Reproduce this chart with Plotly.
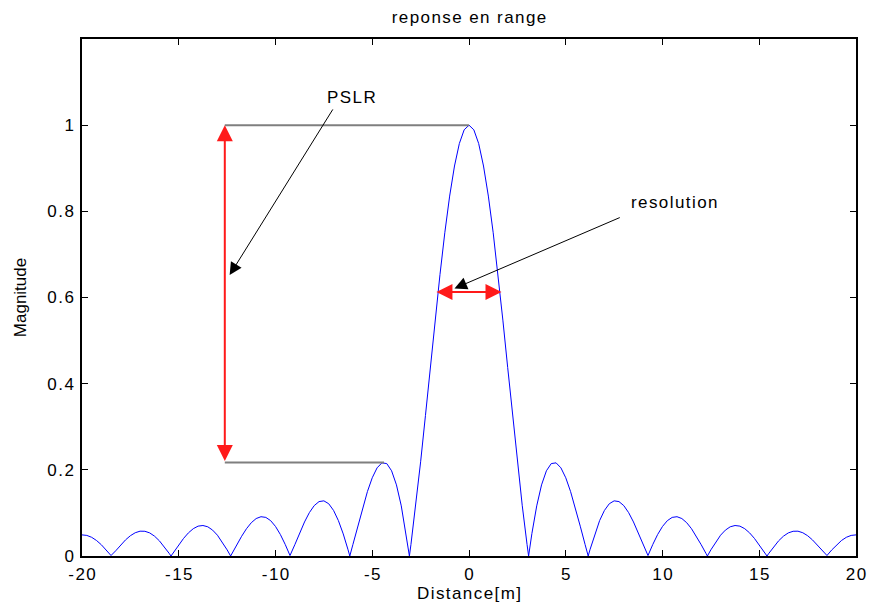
import plotly.graph_objects as go

# Sampled range response (distance in m, magnitude)
distance = [
    -20.0, -19.75, -19.5, -19.25, -19.0, -18.75, -18.5, -18.25, -18.0, -17.75,
    -17.5, -17.25, -17.0, -16.75, -16.5, -16.25, -16.0, -15.75, -15.5, -15.4,
    -15.25, -15.0, -14.75, -14.5, -14.25, -14.0, -13.75, -13.5, -13.25, -13.0,
    -12.75, -12.5, -12.32, -12.25, -12.0, -11.75, -11.5, -11.25, -11.0, -10.75,
    -10.5, -10.25, -10.0, -9.75, -9.5, -9.25, -9.0, -8.75, -8.5, -8.25,
    -8.0, -7.75, -7.5, -7.25, -7.0, -6.75, -6.5, -6.25, -6.16, -6.0,
    -5.75, -5.5, -5.25, -5.0, -4.75, -4.5, -4.25, -4.0, -3.75, -3.5,
    -3.25, -3.08, -3.0, -2.75, -2.5, -2.25, -2.0, -1.75, -1.5, -1.25,
    -1.0, -0.75, -0.5, -0.25,
    0.0,
    0.25, 0.5, 0.75, 1.0, 1.25, 1.5, 1.75, 2.0, 2.25, 2.5,
    2.75, 3.0, 3.08, 3.25, 3.5, 3.75, 4.0, 4.25, 4.5, 4.75,
    5.0, 5.25, 5.5, 5.75, 6.0, 6.16, 6.25, 6.5, 6.75, 7.0,
    7.25, 7.5, 7.75, 8.0, 8.25, 8.5, 8.75, 9.0, 9.25, 9.5,
    9.75, 10.0, 10.25, 10.5, 10.75, 11.0, 11.25, 11.5, 11.75, 12.0,
    12.25, 12.32, 12.5, 12.75, 13.0, 13.25, 13.5, 13.75, 14.0, 14.25,
    14.5, 14.75, 15.0, 15.25, 15.4, 15.5, 15.75, 16.0, 16.25, 16.5,
    16.75, 17.0, 17.25, 17.5, 17.75, 18.0, 18.25, 18.5, 18.75, 19.0,
    19.25, 19.5, 19.75, 20.0,
]
magnitude = [
    0.0490, 0.0478, 0.0434, 0.0360, 0.0261, 0.0142, 0.0011, 0.0125, 0.0256, 0.0374,
    0.0471, 0.0540, 0.0576, 0.0574, 0.0536, 0.0460, 0.0352, 0.0218, 0.0064, 0.0,
    0.0098, 0.0259, 0.0409, 0.0537, 0.0634, 0.0693, 0.0708, 0.0678, 0.0601, 0.0482,
    0.0327, 0.0143, 0.0, 0.0057, 0.0262, 0.0458, 0.0633, 0.0773, 0.0869, 0.0912,
    0.0896, 0.0820, 0.0686, 0.0500, 0.0270, 0.0011, 0.0264, 0.0537, 0.0790, 0.1007,
    0.1169, 0.1263, 0.1280, 0.1213, 0.1058, 0.0822, 0.0513, 0.0144, 0.0, 0.0266,
    0.0692, 0.1111, 0.1495, 0.1816, 0.2046, 0.2162, 0.2145, 0.1977, 0.1651, 0.1164,
    0.0520, 0.0, 0.0266, 0.1178, 0.2187, 0.3263, 0.4373, 0.5475, 0.6531, 0.7503,
    0.8354, 0.9052, 0.9573, 0.9892,
    1.0,
    0.9892, 0.9573, 0.9052, 0.8354, 0.7503, 0.6531, 0.5475, 0.4373, 0.3263, 0.2187,
    0.1178, 0.0266, 0.0, 0.0520, 0.1164, 0.1651, 0.1977, 0.2145, 0.2162, 0.2046,
    0.1816, 0.1495, 0.1111, 0.0692, 0.0266, 0.0, 0.0144, 0.0513, 0.0822, 0.1058,
    0.1213, 0.1280, 0.1263, 0.1169, 0.1007, 0.0790, 0.0537, 0.0264, 0.0011, 0.0270,
    0.0500, 0.0686, 0.0820, 0.0896, 0.0912, 0.0869, 0.0773, 0.0633, 0.0458, 0.0262,
    0.0057, 0.0, 0.0143, 0.0327, 0.0482, 0.0601, 0.0678, 0.0708, 0.0693, 0.0634,
    0.0537, 0.0409, 0.0259, 0.0098, 0.0, 0.0064, 0.0218, 0.0352, 0.0460, 0.0536,
    0.0574, 0.0576, 0.0540, 0.0471, 0.0374, 0.0256, 0.0125, 0.0011, 0.0142, 0.0261,
    0.0360, 0.0434, 0.0478, 0.0490,
]

x_ticks = [-20, -15, -10, -5, 0, 5, 10, 15, 20]
x_tick_labels = ["-20", "-15", "-10", "-5", "0", "5", "10", "15", "20"]
y_ticks = [0, 0.2, 0.4, 0.6, 0.8, 1]
y_tick_labels = ["0", "0.2", "0.4", "0.6", "0.8", "1"]

# Annotation anchors
peak_level = 1.0
sidelobe_level = 0.217
sidelobe_x = -4.39
pslr_x = -12.62
res_level = 0.613
res_left, res_right = -1.76, 1.68

FONT = "Liberation Sans, Arial, sans-serif"
FS = 17


def spaced(s):
    # mimic the loose letter spacing of the original rendering
    return "\u200a".join(s)


fig = go.Figure()
fig.add_trace(go.Scatter(
    x=distance, y=magnitude, mode="lines",
    line=dict(color="#0000ff", width=1), showlegend=False, hoverinfo="skip",
))

# gray reference lines
fig.add_shape(type="line", xref="x", yref="y", x0=pslr_x, x1=0, y0=peak_level, y1=peak_level,
              line=dict(color="#7f7f7f", width=2))
fig.add_shape(type="line", xref="x", yref="y", x0=pslr_x, x1=sidelobe_x, y0=sidelobe_level, y1=sidelobe_level,
              line=dict(color="#7f7f7f", width=2))

annotations = [
    # red vertical double arrow (PSLR)
    dict(x=pslr_x, y=peak_level, ax=pslr_x, ay=sidelobe_level, xref="x", yref="y",
         axref="x", ayref="y", text="", showarrow=True, arrowhead=2, startarrowhead=2,
         arrowside="end+start", arrowsize=1.6, startarrowsize=1.6, arrowwidth=2, arrowcolor="#ff1a1a"),
    # red horizontal double arrow (resolution)
    dict(x=res_right, y=res_level, ax=res_left, ay=res_level, xref="x", yref="y",
         axref="x", ayref="y", text="", showarrow=True, arrowhead=2, startarrowhead=2,
         arrowside="end+start", arrowsize=1.6, startarrowsize=1.6, arrowwidth=2, arrowcolor="#ff1a1a"),
    # black pointer arrows
    dict(x=-12.37, y=0.652, ax=-6.99, ay=1.040, xref="x", yref="y", axref="x", ayref="y",
         text="", showarrow=True, arrowhead=2, arrowsize=2.5, arrowwidth=1, arrowcolor="black"),
    dict(x=-0.75, y=0.621, ax=7.87, ay=0.787, xref="x", yref="y", axref="x", ayref="y",
         text="", showarrow=True, arrowhead=2, arrowsize=2.5, arrowwidth=1, arrowcolor="black"),
    # labels
    dict(x=-6.06, y=1.064, xref="x", yref="y", text=spaced("PSLR"), showarrow=False,
         font=dict(family=FONT, size=FS, color="black")),
    dict(x=10.6, y=0.821, xref="x", yref="y", text=spaced("resolution"),
         showarrow=False, font=dict(family=FONT, size=FS, color="black")),
]
for a in annotations:
    fig.add_annotation(**a)

# page body has an 8px margin: the figure may reach the window's right edge (869 + 8 = 877)
# but must stay within its height (599 + 16 = 615) so nothing overflows the page
fig.update_layout(
    width=869, height=599,
    margin=dict(l=72, r=11, t=31, b=40),
    paper_bgcolor="white", plot_bgcolor="white",
    font=dict(family=FONT, size=FS, color="black"),
    title=dict(text=spaced("reponse en range"), x=0.5, xanchor="center", y=1 - 9 / 599,
               yanchor="middle", xref="paper", font=dict(family=FONT, size=FS, color="black")),
)
fig.update_xaxes(
    range=[-20, 20], tickvals=x_ticks, ticktext=[spaced(t) for t in x_tick_labels],
    ticks="inside", ticklen=6, tickcolor="black", ticklabeloverflow="allow",
    showline=True, linecolor="black", linewidth=1.5, mirror="allticks", showgrid=False,
    zeroline=False, tickfont=dict(family=FONT, size=FS), ticklabelstandoff=2,
    title=dict(text=spaced("Distance[m]"), standoff=0, font=dict(family=FONT, size=FS)),
)
fig.update_yaxes(
    range=[0, 1.2], tickvals=y_ticks, ticktext=[spaced(t) for t in y_tick_labels],
    ticks="inside", ticklen=6, tickcolor="black", showline=True, linecolor="black",
    linewidth=1.5, mirror="allticks", showgrid=False, zeroline=False,
    tickfont=dict(family=FONT, size=FS), ticklabelstandoff=3,
    title=dict(text="Magnitude", standoff=16, font=dict(family=FONT, size=FS)),
)

fig.write_html("out.html", config={"displayModeBar": False})
